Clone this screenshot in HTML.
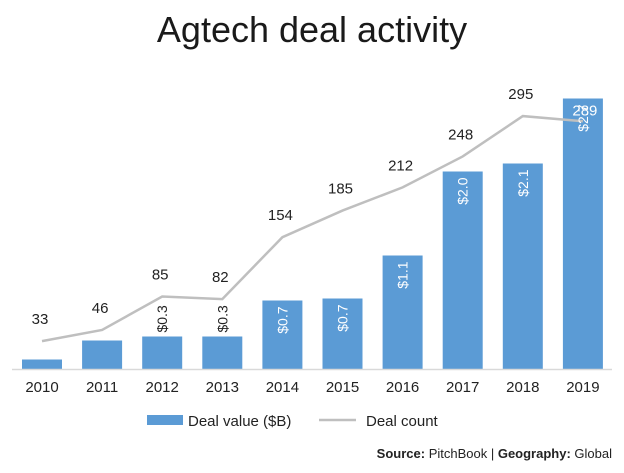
<!DOCTYPE html>
<html><head><meta charset="utf-8"><style>
body{margin:0;background:#fff;font-family:"Liberation Sans",sans-serif;}
svg text{font-family:"Liberation Sans",sans-serif;}
</style></head><body>
<svg width="624" height="468">
<text x="312" y="42" text-anchor="middle" font-size="36" fill="#1a1a1a">Agtech deal activity</text>
<g id="bars"></g><g id="line"></g><g id="labels"></g>
<line x1="12" x2="612" y1="369.5" y2="369.5" stroke="#d9d9d9" stroke-width="1.5"/>
<g>
<rect x="147" y="415" width="36" height="10" fill="#5b9bd5"/>
<text x="188" y="426" font-size="15" fill="#222">Deal value ($B)</text>
<line x1="319" x2="356" y1="420" y2="420" stroke="#bfbfbf" stroke-width="2.5"/>
<text x="366" y="426" font-size="15" fill="#222">Deal count</text>
</g>
<text x="612" y="458" text-anchor="end" font-size="13" fill="#222"><tspan font-weight="bold">Source:</tspan> PitchBook | <tspan font-weight="bold">Geography:</tspan> Global</text>
</svg>
<script>
const years=["2010","2011","2012","2013","2014","2015","2016","2017","2018","2019"];
const dealValue=[0.1,0.29,0.33,0.33,0.69,0.71,1.14,1.98,2.06,2.71];
const valueLabels=["","","$0.3","$0.3","$0.7","$0.7","$1.1","$2.0","$2.1","$2.7"];
const dealCount=[33,46,85,82,154,185,212,248,295,289];
const NS="http://www.w3.org/2000/svg";
const base=369.5;
function xPos(i){return 42+i*60.1;}
function yVal(v){return base-v*100;}
function yCnt(c){return base-c*0.859;}
function mk(t,a,p){const e=document.createElementNS(NS,t);for(const k in a)e.setAttribute(k,a[k]);p.appendChild(e);return e;}
const gb=document.getElementById('bars'),gl=document.getElementById('line'),gt=document.getElementById('labels');
years.forEach((y,i)=>{
 const x=xPos(i),top=yVal(dealValue[i]);
 const r=mk('rect',{x:x-20,y:top,width:40,height:base-top,fill:'#5b9bd5'},gb);
 
 
 const t=mk('text',{x:x,y:392,'text-anchor':'middle','font-size':15,fill:'#222'},gt);
 t.textContent=y;
 
 
 if(valueLabels[i]){
  const inside=i>=4;
  const ty=inside?top+6:top-4;
  const vt=mk('text',{x:x+5,y:ty,'font-size':14,fill:inside?'#fff':'#222','text-anchor':inside?'start':'start',transform:'rotate(-90 '+(x+5)+' '+ty+')'},gt);
  if(!inside){vt.setAttribute('text-anchor','start');}
  vt.textContent=valueLabels[i];
  if(inside){vt.setAttribute('text-anchor','end');vt.setAttribute('transform','rotate(-90 '+(x+5)+' '+ty+')');}
  
  
 }
});
// rotated label anchors: inside labels read bottom-to-top ending near bar top
gt.querySelectorAll('text').forEach(()=>{});
const pts=dealCount.map((c,i)=>xPos(i)+','+yCnt(c)).join(' ');
const pl=mk('polyline',{points:pts,fill:'none',stroke:'#bfbfbf','stroke-width':2.5},gl);


dealCount.forEach((c,i)=>{
 const last=i===dealCount.length-1;
 const x=xPos(i)+(last?2:-2);
 const y=last?yVal(dealValue[i])+17:yCnt(c)-17;
 const t=mk('text',{x:x,y:y,'text-anchor':'middle','font-size':15,fill:last?'#fff':'#222'},gt);
 t.textContent=c;
 
 
});
</script>
</body></html>
